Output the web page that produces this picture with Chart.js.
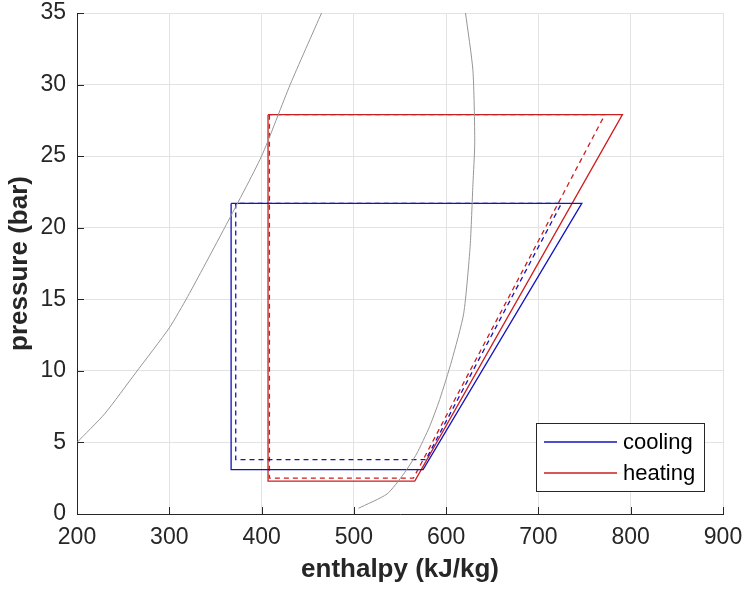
<!DOCTYPE html>
<html>
<head>
<meta charset="utf-8">
<script src="https://cdn.jsdelivr.net/npm/chart.js@4/dist/chart.umd.min.js"></script>
<style>
  html, body { margin: 0; padding: 0; background: #fff; }
  #wrap { width: 745px; height: 589px; }
</style>
</head>
<body>
<div id="wrap"><canvas id="MyChart" width="745" height="589"></canvas></div>
<script>
// saturation dome (grey)
const liqH = [200, 230, 264, 300, 320, 360, 400, 431, 465];
const liqP = [5, 7.0, 9.9, 13.0, 15.2, 20, 25, 30, 35];
const vapH = [505, 536, 554, 568, 582, 593, 606, 619, 626, 629, 631, 629, 621];
const vapP = [0.4, 1.4, 2.8, 4.2, 6.1, 8.0, 10.7, 14, 18.7, 23, 26, 31, 35];

// cycles
const coolH = [367, 367, 575, 747, 367];
const coolP = [21.7, 3.1, 3.1, 21.7, 21.7];
const coolDashH = [372, 372, 578, 725, 372];
const coolDashP = [21.7, 3.8, 3.8, 21.7, 21.7];
const heatH = [407, 407, 566, 791, 407];
const heatP = [27.9, 2.3, 2.3, 27.9, 27.9];
const heatDashH = [408.5, 408.5, 564.5, 772, 408.5];
const heatDashP = [27.9, 2.5, 2.5, 27.9, 27.9];

const xTicks = [200, 300, 400, 500, 600, 700, 800, 900];
const yTicks = [0, 5, 10, 15, 20, 25, 30, 35];

const legendLabels = ['cooling', 'heating'];

const blue = 'rgb(20,20,190)';
const red = 'rgb(205,30,30)';
const grey = 'rgb(150,150,150)';
const font = 'Liberation Sans, Arial, sans-serif';

function pts(h, p) {
    return h.map((v, i) => ({x: v, y: p[i]}));
}

function line(label, h, p, color, dash, width, tension) {
    return {
        label: label,
        data: pts(h, p),
        borderColor: color,
        backgroundColor: color,
        borderWidth: width,
        borderDash: dash,
        showLine: true,
        pointRadius: 0,
        fill: false,
        tension: tension
    };
}

const datasets = [
    line('liquid', liqH, liqP, grey, [], 1, 0.2),
    line('vapour', vapH, vapP, grey, [], 1, 0.2),
    line(legendLabels[0], coolH, coolP, blue, [], 1.3, 0),
    line('cooling2', coolDashH, coolDashP, blue, [5, 4], 1.3, 0),
    line(legendLabels[1], heatH, heatP, red, [], 1.3, 0),
    line('heating2', heatDashH, heatDashP, red, [5, 4], 1.3, 0)
];

// MATLAB style inner tick marks + boxed legend
const extras = {
    id: 'extras',
    afterDatasetsDraw(chart) {
        const ctx = chart.ctx;
        const xs = chart.scales.x, ys = chart.scales.y;
        const a = chart.chartArea;
        ctx.save();
        ctx.strokeStyle = '#262626';
        ctx.lineWidth = 1;
        ctx.beginPath();
        xTicks.forEach(t => {
            const px = Math.round(xs.getPixelForValue(t)) + 0.5;
            ctx.moveTo(px, a.bottom);
            ctx.lineTo(px, a.bottom - 7);
        });
        yTicks.forEach(t => {
            const py = Math.round(ys.getPixelForValue(t)) + 0.5;
            ctx.moveTo(a.left, py);
            ctx.lineTo(a.left + 7, py);
        });
        ctx.stroke();

        // legend box
        const bx = 536.5, by = 423.5, bw = 168, bh = 68;
        ctx.fillStyle = '#fff';
        ctx.fillRect(bx, by, bw, bh);
        ctx.strokeStyle = '#262626';
        ctx.strokeRect(bx, by, bw, bh);
        ctx.font = '22px ' + font;
        ctx.textBaseline = 'middle';
        ctx.textAlign = 'left';
        legendLabels.forEach((lab, i) => {
            const ds = chart.data.datasets.find(d => d.label === lab);
            const y = 442 + i * 31;
            ctx.strokeStyle = ds.borderColor;
            ctx.lineWidth = 1.3;
            ctx.beginPath();
            ctx.moveTo(544, y);
            ctx.lineTo(617, y);
            ctx.stroke();
            ctx.fillStyle = '#000';
            ctx.fillText(lab, 623, y + 1);
        });
        ctx.restore();
    }
};

function noPad(s) {
    s.paddingTop = 0;
    s.paddingBottom = 0;
    s.paddingLeft = 0;
    s.paddingRight = 0;
}

const config = {
    type: 'scatter',
    data: {datasets: datasets},
    options: {
        responsive: false,
        animation: false,
        layout: {padding: {top: 13, right: 22, left: 0, bottom: 0}},
        plugins: {
            legend: {display: false},
            tooltip: {enabled: false}
        },
        scales: {
            x: {
                type: 'linear',
                min: 200,
                max: 900,
                afterFit: s => { s.height = 75; noPad(s); },
                afterBuildTicks: s => { s.ticks = xTicks.map(v => ({value: v})); },
                ticks: {
                    color: '#262626',
                    font: {family: font, size: 23},
                    padding: 10,
                    maxRotation: 0
                },
                grid: {color: '#e3e3e3', drawTicks: false, lineWidth: 1},
                border: {display: true, color: '#262626', width: 1},
                title: {
                    display: true,
                    text: 'enthalpy (kJ/kg)',
                    color: '#262626',
                    font: {family: font, size: 26, weight: 'bold'},
                    padding: {top: 0, bottom: 4}
                }
            },
            y: {
                type: 'linear',
                min: 0,
                max: 35,
                afterFit: s => { s.width = 77; noPad(s); },
                afterBuildTicks: s => { s.ticks = yTicks.map(v => ({value: v})); },
                ticks: {
                    color: '#262626',
                    font: {family: font, size: 23},
                    padding: 11
                },
                grid: {color: '#e3e3e3', drawTicks: false, lineWidth: 1},
                border: {display: true, color: '#262626', width: 1},
                title: {
                    display: true,
                    text: 'pressure (bar)',
                    color: '#262626',
                    font: {family: font, size: 26, weight: 'bold'},
                    padding: {top: 4, bottom: 0}
                }
            }
        }
    },
    plugins: [extras]
};

const myChart = new Chart(document.getElementById('MyChart'), config);
</script>
</body>
</html>
